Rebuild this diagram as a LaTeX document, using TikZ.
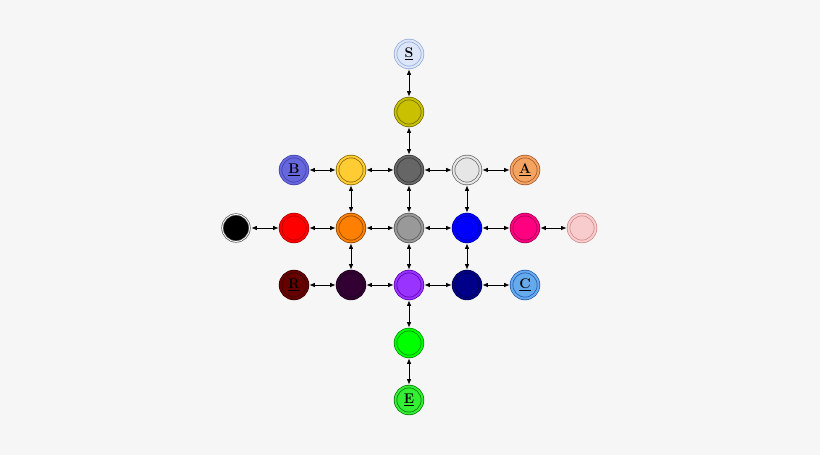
\documentclass[tikz,border=0pt]{standalone}
\usetikzlibrary{arrows.meta}
\definecolor{bgc}{HTML}{F6F6F6}
\definecolor{fS}{HTML}{DCE6F8}\definecolor{oS}{HTML}{8FA8D8}
\definecolor{fY}{HTML}{C8C000}\definecolor{oY}{HTML}{6B6600}
\definecolor{fB}{HTML}{6666DD}\definecolor{oB}{HTML}{4040A8}
\definecolor{fG}{HTML}{FFCC33}\definecolor{oG}{HTML}{806000}
\definecolor{fDG}{HTML}{666666}\definecolor{oDG}{HTML}{333333}
\definecolor{fLG}{HTML}{E6E6E6}\definecolor{oLG}{HTML}{666666}
\definecolor{fA}{HTML}{F4A460}\definecolor{oA}{HTML}{A0522D}
\definecolor{fK}{HTML}{000000}\definecolor{oK}{HTML}{555555}
\definecolor{fRD}{HTML}{FF0000}\definecolor{oRD}{HTML}{AA0000}
\definecolor{fO}{HTML}{FF8000}\definecolor{oO}{HTML}{804000}
\definecolor{fGR}{HTML}{999999}\definecolor{oGR}{HTML}{555555}
\definecolor{fBL}{HTML}{0000FF}\definecolor{oBL}{HTML}{0000AA}
\definecolor{fPK}{HTML}{FF0080}\definecolor{oPK}{HTML}{990050}
\definecolor{fLP}{HTML}{F8CCCC}\definecolor{oLP}{HTML}{D08888}
\definecolor{fR}{HTML}{660000}\definecolor{oR}{HTML}{330000}
\definecolor{fDP}{HTML}{330033}\definecolor{oDP}{HTML}{1A001A}
\definecolor{fV}{HTML}{9933FF}\definecolor{oV}{HTML}{5500AA}
\definecolor{fN}{HTML}{000088}\definecolor{oN}{HTML}{000044}
\definecolor{fC}{HTML}{66AAEE}\definecolor{oC}{HTML}{2255AA}
\definecolor{fGN}{HTML}{00FF00}\definecolor{oGN}{HTML}{008800}
\definecolor{fE}{HTML}{33EE33}\definecolor{oE}{HTML}{007700}
\begin{document}
\begin{tikzpicture}[x=1pt,y=1pt,
  st/.style={circle, minimum size=27pt, inner sep=0pt, fill=f#1, draw=o#1, line width=0.7pt, double=f#1, double distance=2pt, font=\fontsize{14}{14}\selectfont\bfseries},
  conn/.style={{Latex[length=5.5pt,width=4.5pt]}-{Latex[length=5.5pt,width=4.5pt]}, line width=0.8pt, shorten <=1.5pt, shorten >=1.5pt}]
\fill[bgc] (0,0) rectangle (820,455);
\useasboundingbox (0,0) rectangle (820,455);
\node[st=S] (S) at (409,401) {\underline{S}};
\node[st=Y] (Y) at (409,343) {};
\node[st=B] (B) at (294,285) {\underline{B}};
\node[st=G] (G) at (351,285) {};
\node[st=DG] (DG) at (409,285) {};
\node[st=LG] (LG) at (467,285) {};
\node[st=A] (A) at (525,285) {\underline{A}};
\node[st=K, double=white, double distance=0.8pt] (K) at (236,227) {};
\node[st=RD] (RD) at (294,227) {};
\node[st=O] (O) at (351,227) {};
\node[st=GR] (GR) at (409,227) {};
\node[st=BL] (BL) at (467,227) {};
\node[st=PK] (PK) at (525,227) {};
\node[st=LP] (LP) at (582,227) {};
\node[st=R] (R) at (294,170) {\underline{R}};
\node[st=DP] (DP) at (351,170) {};
\node[st=V] (V) at (409,170) {};
\node[st=N] (N) at (467,170) {};
\node[st=C] (C) at (525,170) {\underline{C}};
\node[st=GN] (GN) at (409,112) {};
\node[st=E] (E) at (409,55) {\underline{E}};
\draw[conn] (S) -- (Y);
\draw[conn] (Y) -- (DG);
\draw[conn] (B) -- (G);
\draw[conn] (G) -- (DG);
\draw[conn] (DG) -- (LG);
\draw[conn] (LG) -- (A);
\draw[conn] (G) -- (O);
\draw[conn] (DG) -- (GR);
\draw[conn] (LG) -- (BL);
\draw[conn] (K) -- (RD);
\draw[conn] (RD) -- (O);
\draw[conn] (O) -- (GR);
\draw[conn] (GR) -- (BL);
\draw[conn] (BL) -- (PK);
\draw[conn] (PK) -- (LP);
\draw[conn] (O) -- (DP);
\draw[conn] (GR) -- (V);
\draw[conn] (BL) -- (N);
\draw[conn] (R) -- (DP);
\draw[conn] (DP) -- (V);
\draw[conn] (V) -- (N);
\draw[conn] (N) -- (C);
\draw[conn] (V) -- (GN);
\draw[conn] (GN) -- (E);
\end{tikzpicture}
\end{document}
